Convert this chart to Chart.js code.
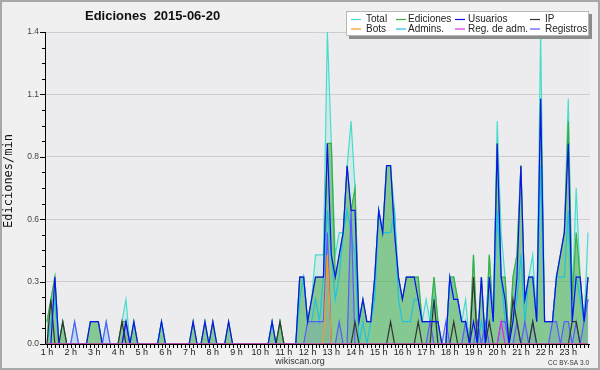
<!DOCTYPE html>
<html>
<head>
<meta charset="utf-8">
<script src="https://cdn.jsdelivr.net/npm/chart.js@4.4.1/dist/chart.umd.min.js"></script>
<style>
  body { margin: 0; background: #f0f0f0; }
</style>
</head>
<body>
<canvas id="myChart" width="600" height="370"></canvas>
<script>
// hour labels on the x axis, each hour has 6 bins of 10 minutes
const hourLabels = ["1 h", "2 h", "3 h", "4 h", "5 h", "6 h", "7 h", "8 h", "9 h", "10 h", "11 h", "12 h",
  "13 h", "14 h", "15 h", "16 h", "17 h", "18 h", "19 h", "20 h", "21 h", "22 h", "23 h"];
const yTickValues = [0, 0.28, 0.56, 0.84, 1.12, 1.4];
const yTickLabels = ["0.0", "0.3", "0.6", "0.8", "1.1", "1.4"];

// edits per minute, one line per hour (6 x 10 min)
const total = [
  .1, .2, .3, 0, .1, 0,
  0, .1, 0, 0, 0, .1,
  .1, .1, 0, .1, 0, 0,
  0, .1, .2, 0, .1, 0,
  0, 0, 0, 0, 0, .1,
  0, 0, 0, 0, 0, 0,
  0, .1, 0, 0, .1, 0,
  .1, 0, 0, 0, .1, 0,
  0, 0, 0, 0, 0, 0,
  0, 0, 0, .1, 0, .1,
  0, 0, 0, 0, .3, .3,
  .1, .2, .4, .4, .4, 1.4,
  .9, .4, .5, .5, .8, 1.0,
  .7, .1, .2, .1, .1, .3,
  .6, .5, .8, .8, .6, .3,
  .2, .3, .3, .3, .3, .1,
  .2, .1, .3, .1, 0, 0,
  .3, .3, .2, .1, .2, 0,
  .4, 0, .3, 0, .4, .1,
  1.0, .5, .3, 0, .3, .4,
  .8, .2, .3, .4, .1, 1.4,
  .1, .1, .1, .3, .4, .5,
  1.1, .2, .7, .3, .1, .5
];
const ediciones = [
  .1, .2, .3, 0, .1, 0,
  0, 0, 0, 0, 0, .1,
  .1, .1, 0, 0, 0, 0,
  0, .1, .1, 0, .1, 0,
  0, 0, 0, 0, 0, .1,
  0, 0, 0, 0, 0, 0,
  0, .1, 0, 0, .1, 0,
  .1, 0, 0, 0, .1, 0,
  0, 0, 0, 0, 0, 0,
  0, 0, 0, .1, 0, .1,
  0, 0, 0, 0, .3, .3,
  .1, .2, .3, .3, .3, .9,
  .9, .3, .4, .5, .8, .6,
  .7, .1, .2, .1, .1, .3,
  .6, .5, .8, .8, .5, .3,
  .2, .3, .3, .3, .3, .1,
  .1, .1, .3, .1, 0, 0,
  .3, .3, .2, .1, .1, 0,
  .4, 0, .3, 0, .4, .1,
  .9, .3, .3, 0, .3, .4,
  .8, .2, .3, .3, .1, 1.1,
  .1, .1, .1, .3, .4, .5,
  1.0, .2, .5, .3, .1, .3
];
const usuarios = [
  0, 0, .3, 0, 0, 0,
  0, 0, 0, 0, 0, .1,
  .1, .1, 0, 0, 0, 0,
  0, 0, .1, 0, .1, 0,
  0, 0, 0, 0, 0, .1,
  0, 0, 0, 0, 0, 0,
  0, .1, 0, 0, .1, 0,
  .1, 0, 0, 0, .1, 0,
  0, 0, 0, 0, 0, 0,
  0, 0, 0, .1, 0, 0,
  0, 0, 0, 0, .3, .3,
  .1, .2, .3, .3, .3, .9,
  .4, .3, .4, .5, .8, .6,
  .6, .1, .2, .1, .1, .3,
  .6, .5, .8, .8, .5, .3,
  .2, .3, .3, .3, .2, .1,
  .1, .1, .1, .1, 0, 0,
  .3, .2, .2, .1, .1, 0,
  .1, 0, .3, 0, .3, .1,
  .9, .3, .2, 0, .1, .3,
  .8, .2, .3, .3, .1, 1.1,
  .1, .1, .1, .3, .4, .5,
  .9, .1, .3, .3, .1, .3
];
const ip = [
  0, .2, 0, 0, .1, 0,
  0, 0, 0, 0, 0, 0,
  0, 0, 0, 0, 0, 0,
  0, .1, 0, 0, 0, 0,
  0, 0, 0, 0, 0, 0,
  0, 0, 0, 0, 0, 0,
  0, 0, 0, 0, 0, 0,
  0, 0, 0, 0, 0, 0,
  0, 0, 0, 0, 0, 0,
  0, 0, 0, 0, 0, .1,
  0, 0, 0, 0, 0, 0,
  0, 0, 0, 0, 0, 0,
  0, 0, 0, 0, 0, 0,
  .1, 0, 0, 0, 0, 0,
  0, 0, 0, .1, 0, 0,
  0, 0, 0, 0, .1, 0,
  0, 0, .2, 0, 0, 0,
  0, .1, 0, 0, 0, 0,
  .3, 0, 0, 0, .1, 0,
  0, 0, 0, 0, .2, .1,
  0, 0, 0, .1, 0, 0,
  0, 0, 0, 0, 0, 0,
  0, .1, .1, 0, 0, 0
];
const bots = [
  0, 0, 0, 0, 0, 0,
  0, 0, 0, 0, 0, 0,
  0, 0, 0, 0, 0, 0,
  0, 0, 0, 0, 0, 0,
  0, 0, 0, 0, 0, 0,
  0, 0, 0, 0, 0, 0,
  0, 0, 0, 0, 0, 0,
  0, 0, 0, 0, 0, 0,
  0, 0, 0, 0, 0, 0,
  0, 0, 0, 0, 0, 0,
  0, 0, 0, 0, 0, 0,
  0, 0, 0, 0, 0, .4,
  0, 0, 0, 0, 0, 0,
  0, 0, 0, 0, 0, 0,
  0, 0, 0, 0, 0, 0,
  0, 0, 0, 0, 0, 0,
  0, 0, 0, 0, 0, 0,
  0, 0, 0, 0, 0, 0,
  0, 0, 0, 0, 0, 0,
  0, 0, 0, 0, 0, 0,
  0, 0, 0, 0, 0, 0,
  0, 0, 0, 0, 0, 0,
  0, 0, 0, 0, 0, 0
];
const admins = [
  0, .1, .2, 0, 0, 0,
  0, 0, 0, 0, 0, 0,
  0, 0, 0, 0, 0, 0,
  0, 0, 0, 0, 0, 0,
  0, 0, 0, 0, 0, .1,
  0, 0, 0, 0, 0, 0,
  0, 0, 0, 0, 0, 0,
  0, 0, 0, 0, 0, 0,
  0, 0, 0, 0, 0, 0,
  0, 0, 0, .1, 0, 0,
  0, 0, 0, 0, .2, .3,
  .1, .1, .2, .1, .3, .6,
  .4, .2, .3, .5, .6, .5,
  .4, 0, .1, 0, .1, .2,
  .6, .5, .5, .5, .6, .2,
  .1, .1, .1, .2, .2, .1,
  .1, .1, .2, 0, 0, 0,
  .3, .2, .2, .1, .1, 0,
  0, 0, .1, 0, .3, .1,
  .6, .3, .1, 0, .1, .2,
  .4, .1, .3, .3, .1, .8,
  .1, .1, .1, .3, .3, .3,
  .6, .1, .3, .2, .1, .2
];
const regAdm = [
  0, 0, 0, 0, 0, 0,
  0, 0, 0, 0, 0, 0,
  0, 0, 0, 0, 0, 0,
  0, 0, 0, 0, 0, 0,
  0, 0, 0, 0, 0, 0,
  0, 0, 0, 0, 0, 0,
  0, 0, 0, 0, 0, 0,
  0, 0, 0, 0, 0, 0,
  0, 0, 0, 0, 0, 0,
  0, 0, 0, 0, 0, 0,
  0, 0, 0, 0, 0, 0,
  0, 0, 0, 0, 0, 0,
  0, 0, 0, 0, 0, 0,
  0, 0, 0, 0, 0, 0,
  0, 0, 0, 0, 0, 0,
  0, 0, 0, 0, 0, 0,
  0, 0, 0, 0, 0, 0,
  0, 0, 0, 0, 0, 0,
  0, 0, 0, 0, 0, 0,
  0, .1, 0, 0, 0, 0,
  0, 0, 0, 0, 0, 0,
  0, 0, 0, 0, 0, 0,
  0, 0, 0, 0, 0, 0
];
const registros = [
  0, 0, 0, 0, 0, 0,
  0, .1, 0, 0, 0, 0,
  0, 0, 0, .1, 0, 0,
  0, 0, .1, 0, 0, 0,
  0, 0, 0, 0, 0, 0,
  0, 0, 0, 0, 0, 0,
  0, 0, 0, 0, 0, 0,
  0, 0, 0, 0, 0, 0,
  0, 0, 0, 0, 0, 0,
  0, 0, 0, 0, 0, 0,
  0, 0, 0, 0, 0, 0,
  .1, .1, .1, .1, .1, .5,
  0, 0, .1, 0, 0, .6,
  0, 0, 0, 0, 0, 0,
  0, 0, 0, 0, 0, 0,
  0, 0, 0, 0, 0, 0,
  0, .1, 0, 0, 0, .1,
  0, 0, 0, 0, .1, 0,
  0, .1, 0, .1, 0, 0,
  0, .1, .1, 0, 0, .1,
  0, .1, 0, .1, 0, 0,
  0, 0, .1, .1, 0, .1,
  .1, 0, .1, 0, .1, .2
];

// 10 minute bins
const binLabels = [];
hourLabels.forEach((h, n) => {
  for (let m = 0; m < 6; m++) binLabels.push(n + 1 + ":" + m + "0");
});

function serie(label, data, color, order, fill) {
  return {
    label: label,
    data: data,
    borderColor: color,
    borderWidth: 1.2,
    pointRadius: 0,
    tension: 0,
    order: order,
    fill: fill ? "origin" : false,
    backgroundColor: fill || color,
  };
}

// legend, title, axes and ticks drawn by hand like wikiscan
const decor = {
  id: "decor",
  beforeDraw(chart) {
    const c = chart.ctx, a = chart.chartArea;
    c.save();
    c.fillStyle = "#f0f0f0";
    c.fillRect(0, 0, chart.width, chart.height);
    c.fillStyle = "#ececef";
    c.fillRect(a.left, a.top, a.right - a.left, a.bottom - a.top);
    c.restore();
  },
  afterDraw(chart) {
    const c = chart.ctx, a = chart.chartArea;
    const xs = chart.scales.x, ys = chart.scales.y;
    c.save();
    c.strokeStyle = "#000";
    c.lineWidth = 1;
    c.beginPath();
    c.moveTo(a.left + 0.5, a.top);
    c.lineTo(a.left + 0.5, a.bottom + 0.5);
    c.lineTo(a.right, a.bottom + 0.5);
    // y ticks, 3 small ones between the big ones
    for (let k = 0; k < yTickValues.length; k++) {
      let y = Math.round(ys.getPixelForValue(yTickValues[k])) + 0.5;
      c.moveTo(a.left - 5, y);
      c.lineTo(a.left, y);
      if (k > 0) {
        for (let s = 1; s < 4; s++) {
          let v = yTickValues[k - 1] + (yTickValues[k] - yTickValues[k - 1]) * s / 4;
          let yy = Math.round(ys.getPixelForValue(v)) + 0.5;
          c.moveTo(a.left - 3, yy);
          c.lineTo(a.left, yy);
        }
      }
    }
    // x ticks every 10 min
    for (let i = 0; i < binLabels.length; i++) {
      let x = Math.round(xs.getPixelForValue(i)) + 0.5;
      c.moveTo(x, a.bottom);
      c.lineTo(x, a.bottom + 4);
    }
    c.stroke();

    // title
    c.fillStyle = "#111";
    c.font = "bold 13px 'Liberation Sans'";
    c.textAlign = "left";
    c.textBaseline = "middle";
    c.fillText("Ediciones  2015-06-20", 85, 16);

    // y title
    c.save();
    c.translate(9, 181);
    c.rotate(-Math.PI / 2);
    c.textAlign = "center";
    c.font = "12px 'DejaVu Sans Mono'";
    c.fillStyle = "#111";
    c.fillText("Ediciones/min", 0, 0);
    c.restore();

    c.fillStyle = "#333";
    c.font = "9px 'Liberation Sans'";
    c.textAlign = "center";
    c.fillText("wikiscan.org", 300, 362);
    c.font = "6.5px 'Liberation Sans'";
    c.textAlign = "right";
    c.fillText("CC BY-SA 3.0", 589, 363);

    // legend box with shadow
    c.fillStyle = "#8c8c8c";
    c.fillRect(349, 14, 243, 25);
    c.fillStyle = "#fff";
    c.fillRect(346, 11, 243, 25);
    c.strokeStyle = "#b8b8b8";
    c.strokeRect(346.5, 11.5, 242, 24);
    const lineX = [351, 396, 455, 530];
    const textX = [366, 408, 468, 545];
    c.font = "10px 'Liberation Sans'";
    c.textAlign = "left";
    chart.data.datasets.forEach((ds, n) => {
      let col = n % 4, y = n < 4 ? 19.5 : 29;
      c.strokeStyle = ds.borderColor;
      c.lineWidth = 1.2;
      c.beginPath();
      c.moveTo(lineX[col], y);
      c.lineTo(lineX[col] + 10, y);
      c.stroke();
      c.fillStyle = "#222";
      c.fillText(ds.label, textX[col], y);
    });

    // frame of the picture
    c.strokeStyle = "#a8a8a8";
    c.lineWidth = 2;
    c.strokeRect(1, 1, chart.width - 2, chart.height - 2);
    c.restore();
  },
};

const ctx = document.getElementById("myChart");
new Chart(ctx, {
  type: "line",
  data: {
    labels: binLabels,
    datasets: [
      serie("Total", total, "#48dccb", 7, "rgba(64, 224, 208, 0.15)"),
      serie("Ediciones", ediciones, "#3cae3c", 6, "rgba(40, 160, 40, 0.45)"),
      serie("Usuarios", usuarios, "#1010ee", 2),
      serie("IP", ip, "#333333", 3),
      serie("Bots", bots, "#ff9a1a", 1),
      serie("Admins.", admins, "#1ec3df", 5),
      serie("Reg. de adm.", regAdm, "#d92ee8", 0),
      serie("Registros", registros, "#5a5aff", 4, "rgba(90, 90, 255, 0.12)"),
    ],
  },
  options: {
    responsive: false,
    animation: false,
    layout: { padding: { left: 0, right: 10, top: 32, bottom: 0 } },
    scales: {
      x: {
        offset: true,
        grid: { display: false, drawTicks: false },
        border: { display: false },
        ticks: {
          autoSkip: false,
          maxRotation: 0,
          padding: 3,
          color: "#222",
          font: { family: "Liberation Sans", size: 9 },
          callback: (v, i) => (i % 6 === 0 ? hourLabels[i / 6] : ""),
        },
        afterFit: (s) => { s.height = 26; },
      },
      y: {
        min: 0,
        max: 1.4,
        afterBuildTicks: (s) => { s.ticks = yTickValues.map((v) => ({ value: v })); },
        grid: { color: "#cdcdcd", drawTicks: false },
        border: { display: false },
        ticks: {
          padding: 6,
          color: "#444",
          font: { family: "Liberation Sans", size: 8.5 },
          callback: (v, i) => yTickLabels[i],
        },
        afterFit: (s) => { s.width = 45; },
      },
    },
    plugins: {
      legend: { display: false },
      tooltip: { enabled: false },
      filler: { drawTime: "beforeDatasetsDraw" },
    },
  },
  plugins: [decor],
});
</script>
</body>
</html>
